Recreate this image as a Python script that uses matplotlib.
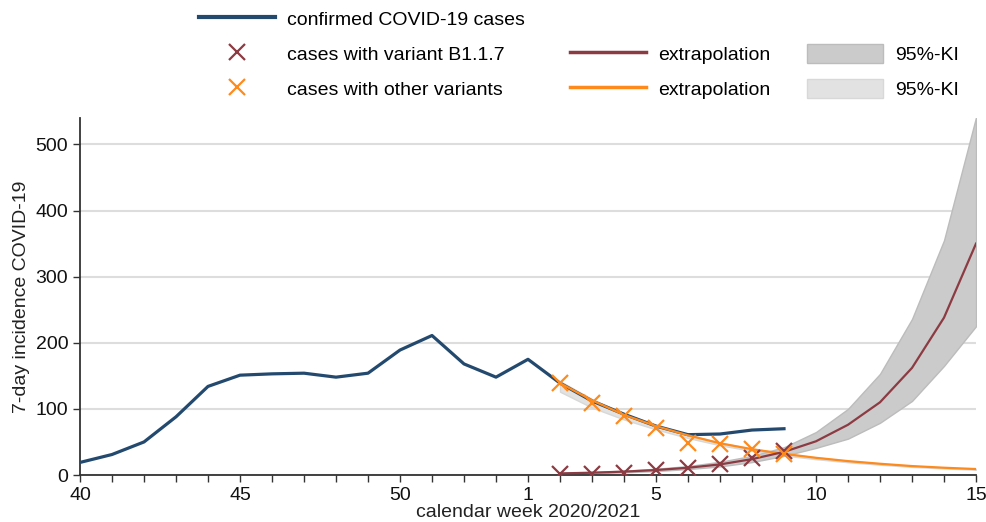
import numpy as np
import matplotlib
matplotlib.use("Agg")
import matplotlib.pyplot as plt
from matplotlib.lines import Line2D
from matplotlib.patches import Patch

plt.rcParams['font.family'] = ['Liberation Sans', 'DejaVu Sans']
plt.rcParams['font.size'] = 14

# calendar weeks 2020/2021 (week 40 of 2020 ... week 15 of 2021)
weeks = [40, 41, 42, 43, 44, 45, 46, 47, 48, 49, 50, 51, 52, 53,
         1, 2, 3, 4, 5, 6, 7, 8, 9, 10, 11, 12, 13, 14, 15]
tick_weeks = [40, 45, 50, 1, 5, 10, 15]

# confirmed cases, week 40 .. week 9
confirmed = [19, 31, 50, 88, 134, 151, 153, 154, 148, 154, 189, 211, 168, 148,
             175, 139, 112, 92, 74, 61, 62, 68, 70]

# sampled variant shares, week 2 .. week 9
b117_obs = [1.5, 2, 3, 7, 11, 17, 25, 37]
other_obs = [139, 109, 89, 71, 48, 47, 39, 32]

# extrapolation, week 2 .. week 15
b117_fit = [2.4, 3.5, 5.1, 7.5, 11, 16, 24, 35, 51, 76, 110, 162, 238, 350]
b117_lo = [1.8, 2.7, 4, 6, 9, 13, 19.5, 29, 41, 55, 79, 112, 165, 225]
b117_hi = [3.1, 4.5, 6.5, 9.5, 13.5, 20, 29, 42, 65, 100, 153, 236, 355, 541]
other_fit = [139, 113, 91, 74, 60, 48, 39, 32, 26, 21, 17, 13.5, 11, 9]
other_lo = [126, 102, 84, 69, 56, 45, 36.5, 29.5, 24, 19.3, 15.6, 12.3, 10, 8]
other_hi = [142, 115, 93, 75.5, 61, 49, 40, 32.8, 26.8, 21.6, 17.5, 13.9, 11.3, 9.3]

blue = '#234a6e'
red = '#8c3b42'
orange = '#ff8a1c'

x_all = np.arange(len(weeks))
x_conf = x_all[:len(confirmed)]
start = weeks.index(2)
x_obs = x_all[start:start + len(b117_obs)]
x_fit = x_all[start:start + len(b117_fit)]

fig = plt.figure(figsize=(9.87, 5.22), dpi=100)
ax = fig.add_axes([80/987, 47/522, 896/987, 357/522])

ax.fill_between(x_fit, other_lo, other_hi, color='#e2e2e2', edgecolor='#d8d8d8', lw=1, zorder=2)
ax.fill_between(x_fit, b117_lo, b117_hi, color='#cbcbcb', edgecolor='#bcbcbc', lw=1, zorder=2)
ax.plot(x_conf, confirmed, color=blue, lw=2.3, zorder=3)
ax.plot(x_fit, other_fit, color=orange, lw=1.6, zorder=4)
ax.plot(x_fit, b117_fit, color=red, lw=1.6, zorder=4)
ax.plot(x_obs, b117_obs, 'x', color=red, ms=11, mew=1.6, zorder=5)
ax.plot(x_obs, other_obs, 'x', color=orange, ms=11, mew=1.6, zorder=5)

ax.set_xlim(0, len(weeks) - 1)
ax.set_ylim(0, 540)
ax.set_xticks([weeks.index(w) if w >= 40 else weeks.index(w, 14) for w in tick_weeks])
ax.set_xticklabels([str(w) for w in tick_weeks])
ax.set_xticks(x_all, minor=True)
ax.set_yticks([0, 100, 200, 300, 400, 500])
ax.tick_params(axis='both', which='both', direction='out', length=5, width=1,
               colors='#333333', labelcolor='#111111', labelsize=14)
ax.grid(axis='y', color='#dddddd', lw=1.5)
ax.set_axisbelow(True)
for s in ['top', 'right']:
    ax.spines[s].set_visible(False)
for s in ['left', 'bottom']:
    ax.spines[s].set_color('#333333')
    ax.spines[s].set_linewidth(1.3)

ax.set_xlabel('calendar week 2020/2021', fontsize=14, color='#222222', labelpad=0)
ax.set_ylabel('7-day incidence COVID-19', fontsize=14, color='#222222', labelpad=4)

# legend in three columns
kw = dict(frameon=False, loc='upper left', borderpad=0, borderaxespad=0,
          handlelength=3.9, handletextpad=0.65, handleheight=1.1,
          labelspacing=0.78, fontsize=14, numpoints=1)
h1 = [Line2D([], [], color=blue, lw=3),
      Line2D([], [], ls='', marker='x', color=red, ms=11, mew=1.6),
      Line2D([], [], ls='', marker='x', color=orange, ms=11, mew=1.6)]
l1 = ['confirmed COVID-19 cases', 'cases with variant B1.1.7', 'cases with other variants']
leg1 = fig.legend(h1, l1, bbox_to_anchor=(199/987, 1 - 9/522), **kw)
h2 = [Line2D([], [], color=red, lw=2.5), Line2D([], [], color=orange, lw=2.5)]
leg2 = fig.legend(h2, ['extrapolation', 'extrapolation'],
                  bbox_to_anchor=(570/987, 1 - 44/522), **kw)
h3 = [Patch(facecolor='#cbcbcb', edgecolor='#bcbcbc'),
      Patch(facecolor='#e2e2e2', edgecolor='#d8d8d8')]
leg3 = fig.legend(h3, ['95%-KI', '95%-KI'],
                  bbox_to_anchor=(807/987, 1 - 44/522), **kw)

fig.savefig('out.png', dpi=100)
